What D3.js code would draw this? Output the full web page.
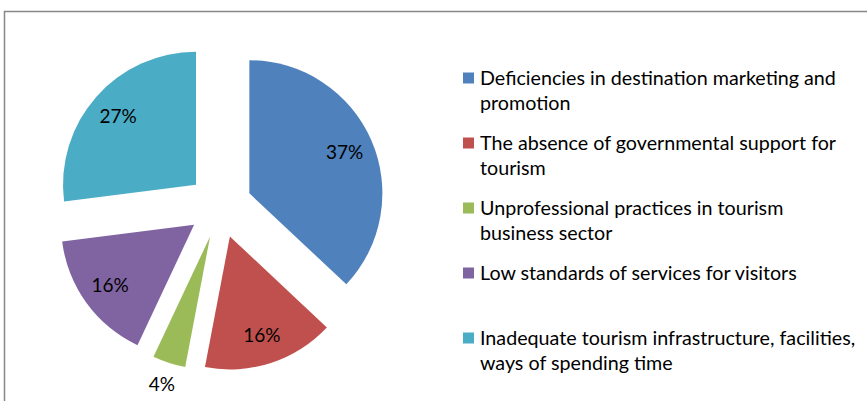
<!DOCTYPE html>
<html>
<head>
<meta charset="utf-8">
<script src="https://cdn.jsdelivr.net/npm/d3@7"></script>
<style>
  body { margin: 0; background: #fff; }
  svg { display: block; }
  text { font-family: Lato, "Open Sans", sans-serif; fill: #000; }
</style>
</head>
<body>
<script>
const width = 867;
const height = 401;

// data
const categories = [
  "Deficiencies in destination marketing and promotion",
  "The absence of governmental support for tourism",
  "Unprofessional practices in tourism business sector",
  "Low standards of services for visitors",
  "Inadequate tourism infrastructure, facilities, ways of spending time"
];
const values = [37, 16, 4, 16, 27];
const legendLines = [
  ["Deficiencies in destination marketing and", "promotion"],
  ["The absence of governmental support for", "tourism"],
  ["Unprofessional practices in tourism", "business sector"],
  ["Low standards of services for visitors"],
  ["Inadequate tourism infrastructure, facilities,", "ways of spending time"]
];
const colors = ["#4F81BD", "#C0504D", "#9BBB59", "#8064A2", "#4BACC6"];

// layout
const cx = 220, cy = 206;
const radius = 133;
const explode = 32;

const svg = d3.select('body').append('svg')
  .attr('width', width)
  .attr('height', height);

// chart frame (only top & left visible)
svg.append('rect')
  .attr('x', 4.5)
  .attr('y', 11.5)
  .attr('width', width + 20)
  .attr('height', height + 20)
  .attr('fill', 'none')
  .attr('stroke', '#878787')
  .attr('stroke-width', 1.5);

const pie = d3.pie().sort(null).value(d => d)(values);
const arc = d3.arc().innerRadius(0).outerRadius(radius);
const labelArc = d3.arc().innerRadius(radius * 0.78).outerRadius(radius * 0.78);

const offset = d => {
  const mid = (d.startAngle + d.endAngle) / 2;
  return [explode * Math.sin(mid), -explode * Math.cos(mid)];
};

const slices = svg.append('g')
  .attr('transform', `translate(${cx},${cy})`)
  .selectAll('g.slice')
  .data(pie)
  .join('g')
  .classed('slice', true)
  .attr('transform', d => `translate(${offset(d)})`);

slices.append('path')
  .attr('d', arc)
  .attr('fill', (d, i) => colors[i]);

// data labels; small slice gets its label outside
slices.append('text')
  .attr('transform', d => {
    if (d.data < 8) {
      const mid = (d.startAngle + d.endAngle) / 2;
      const r = radius + 23;
      return `translate(${r * Math.sin(mid)},${-r * Math.cos(mid)})`;
    }
    return `translate(${labelArc.centroid(d)})`;
  })
  .attr('text-anchor', 'middle')
  .attr('dy', '0.35em')
  .style('font-size', '19px')
  .text(d => d.data + '%');

// legend
const legendX = 463;
const legendY = [78, 143, 208, 273, 338];
const lineGap = 25.5;

const legend = svg.append('g')
  .selectAll('g.item')
  .data(categories)
  .join('g')
  .classed('item', true)
  .attr('transform', (d, i) => `translate(${legendX},${legendY[i]})`);

legend.append('rect')
  .attr('x', 0)
  .attr('y', -5.5)
  .attr('width', 11)
  .attr('height', 11)
  .attr('fill', (d, i) => colors[i]);

legend.each(function(d, i) {
  d3.select(this).selectAll('text')
    .data(legendLines[i])
    .join('text')
    .attr('x', 17)
    .attr('y', (t, j) => j * lineGap)
    .attr('dy', '0.35em')
    .style('font-size', '19.7px')
    .text(t => t);
});
</script>
</body>
</html>
